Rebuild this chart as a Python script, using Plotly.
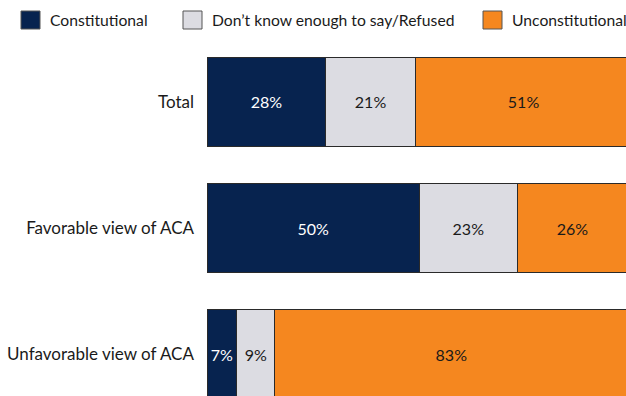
import plotly.graph_objects as go

# Survey responses: is the ACA constitutional?
groups = ["Unfavorable view of ACA", "Favorable view of ACA", "Total"]
constitutional = [7, 50, 28]
dont_know = [9, 23, 21]
unconstitutional = [83, 26, 51]

series_names = ["Constitutional", "Don\u2019t know enough to say/Refused", "Unconstitutional"]
series_values = [constitutional, dont_know, unconstitutional]
fill_colors = ["#07234f", "#dcdce2", "#f5871f"]
text_colors = ["#ffffff", "#1a1a1a", "#1a1a1a"]

FONT = "Lato, 'Open Sans', sans-serif"
W, H = 626, 396
ML, MR, MT, MB = 207, 0, 45, 0

fig = go.Figure()
for name, vals, fc, tc in zip(series_names, series_values, fill_colors, text_colors):
    fig.add_trace(go.Bar(
        y=groups, x=vals, name=name, orientation="h",
        marker=dict(color=fc, line=dict(color="#2a2a2a", width=1)),
        texttemplate="%{x}%", textposition="inside", insidetextanchor="middle",
        textangle=0, constraintext="none",
        textfont=dict(family=FONT, size=16, color=tc),
        showlegend=False, hoverinfo="skip",
    ))

# Legend drawn as swatches + labels above the plot area
plot_w = W - ML - MR
plot_h = H - MT - MB
def px_x(p):
    return (p - ML) / plot_w
def px_y(p):
    return (H - MB - p) / plot_h

legend_swatch_x = [21, 183, 483]
for name, fc, sx in zip(series_names, fill_colors, legend_swatch_x):
    fig.add_shape(type="rect", xref="paper", yref="paper",
                  x0=px_x(sx), x1=px_x(sx + 19), y0=px_y(29), y1=px_y(11),
                  fillcolor=fc, line=dict(color="#555555", width=1))
    fig.add_annotation(text=name, xref="paper", yref="paper",
                       x=px_x(sx + 27), y=px_y(20), xanchor="left", yanchor="middle",
                       showarrow=False, font=dict(family=FONT, size=15.7, color="#1a1a1a"))

fig.update_layout(
    width=W, height=H,
    margin=dict(l=ML, r=MR, t=MT, b=MB),
    barmode="stack", bargap=0.3,
    plot_bgcolor="white", paper_bgcolor="white",
    xaxis=dict(range=[0, 98.6], visible=False, fixedrange=True),
    yaxis=dict(range=[-0.333, 2.452], showgrid=False, zeroline=False, showline=False,
               ticks="", ticklabelstandoff=12,
               tickfont=dict(family=FONT, size=17, color="#1a1a1a")),
)

fig.write_html("out.html")
